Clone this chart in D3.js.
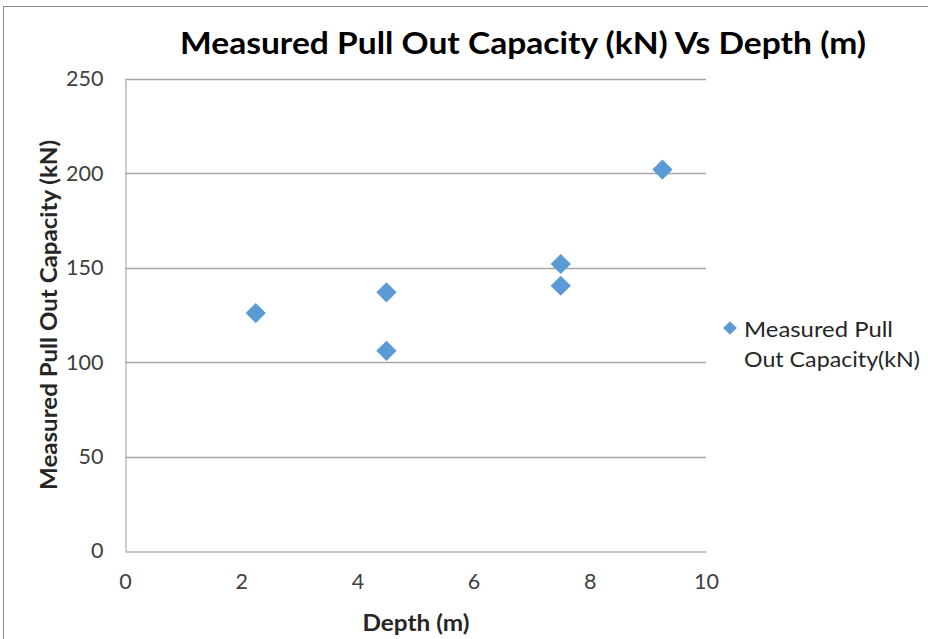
<!DOCTYPE html>
<html>
<head>
<meta charset="utf-8">
<script src="https://cdn.jsdelivr.net/npm/d3@7"></script>
<style>
  html, body { margin: 0; padding: 0; background: #fff; }
  svg { display: block; }
  text { font-family: Lato, "Open Sans", sans-serif; }
</style>
</head>
<body>
<div id="chart"></div>
<script>
// Pull-out test results: depth (m) against measured capacity (kN)
const depths = [2.25, 4.5, 4.5, 7.5, 7.5, 9.25];
const capacities = [126, 137, 106, 152, 140.5, 202];
const xTicks = [0, 2, 4, 6, 8, 10];
const yTicks = [0, 50, 100, 150, 200, 250];
const chartTitle = "Measured Pull Out Capacity (kN) Vs Depth (m)";
const xTitle = "Depth (m)";
const yTitle = "Measured Pull Out Capacity (kN)";
const legendLines = ["Measured Pull", "Out Capacity(kN)"];
const legendWidths = [149, 176];

const W = 928, H = 639;
const plot = { left: 125, right: 706, top: 79, bottom: 551 };
const markColor = "#5b9bd5";
const tickFont = 21.5;

const svg = d3.select("#chart").append("svg")
  .attr("width", W).attr("height", H);

// chart frame
svg.append("rect")
  .attr("x", 3.5).attr("y", 6.5)
  .attr("width", W + 10).attr("height", H + 10)
  .attr("fill", "#fff").attr("stroke", "#8c8c8c").attr("stroke-width", 1);

const x = d3.scaleLinear().domain([0, 10]).range([plot.left, plot.right]);
const y = d3.scaleLinear().domain([0, 250]).range([plot.bottom, plot.top]);

// horizontal gridlines
svg.append("g")
  .selectAll("line")
  .data(yTicks.filter(v => v > 0))
  .join("line")
  .attr("x1", plot.left).attr("x2", plot.right)
  .attr("y1", d => Math.round(y(d)) + 0.5).attr("y2", d => Math.round(y(d)) + 0.5)
  .attr("stroke", "#a6a6a6").attr("stroke-width", 1.3);

// y axis
const yAxis = svg.append("g")
  .attr("transform", `translate(${plot.left + 0.5},0)`)
  .call(d3.axisLeft(y).tickValues(yTicks).tickSize(0).tickPadding(22).tickFormat(d3.format("d")));
yAxis.select(".domain").attr("stroke", "#b3b3b3").attr("stroke-width", 1.3);
yAxis.selectAll("text")
  .attr("font-size", tickFont).attr("fill", "#404040")
  .attr("font-family", "Lato, 'Open Sans', sans-serif");

// x axis
const xAxis = svg.append("g")
  .attr("transform", `translate(0,${plot.bottom + 0.5})`)
  .call(d3.axisBottom(x).tickValues(xTicks).tickSize(0).tickPadding(22).tickFormat(d3.format("d")));
xAxis.select(".domain").attr("stroke", "#b3b3b3").attr("stroke-width", 1.3);
xAxis.selectAll("text")
  .attr("font-size", tickFont).attr("fill", "#404040")
  .attr("font-family", "Lato, 'Open Sans', sans-serif");

// data markers (diamonds)
const diamond = d3.symbol().type(d3.symbolDiamond2).size(260);
svg.append("g")
  .selectAll("path")
  .data(depths.map((d, i) => [d, capacities[i]]))
  .join("path")
  .attr("d", diamond)
  .attr("transform", d => `translate(${x(d[0])},${y(d[1])})`)
  .attr("fill", markColor);

// titles
svg.append("text")
  .attr("x", 523).attr("y", 54)
  .attr("text-anchor", "middle")
  .attr("font-size", 30).attr("font-weight", "bold").attr("fill", "#000")
  .attr("textLength", 686).attr("lengthAdjust", "spacingAndGlyphs")
  .text(chartTitle);

svg.append("text")
  .attr("x", 416).attr("y", 631)
  .attr("text-anchor", "middle")
  .attr("font-size", 22).attr("font-weight", "bold").attr("fill", "#262626")
  .attr("textLength", 107).attr("lengthAdjust", "spacingAndGlyphs")
  .text(xTitle);

svg.append("text")
  .attr("transform", "translate(57,315) rotate(-90)")
  .attr("text-anchor", "middle")
  .attr("font-size", 22).attr("font-weight", "bold").attr("fill", "#262626")
  .attr("textLength", 350).attr("lengthAdjust", "spacingAndGlyphs")
  .text(yTitle);

// legend
const legend = svg.append("g");
legend.append("path")
  .attr("d", d3.symbol().type(d3.symbolDiamond2).size(120))
  .attr("transform", "translate(730,328)")
  .attr("fill", markColor);
legend.selectAll("text")
  .data(legendLines)
  .join("text")
  .attr("x", 744)
  .attr("y", (d, i) => 337 + i * 30)
  .attr("font-size", 22).attr("fill", "#262626")
  .attr("textLength", (d, i) => legendWidths[i]).attr("lengthAdjust", "spacingAndGlyphs")
  .text(d => d);
</script>
</body>
</html>
